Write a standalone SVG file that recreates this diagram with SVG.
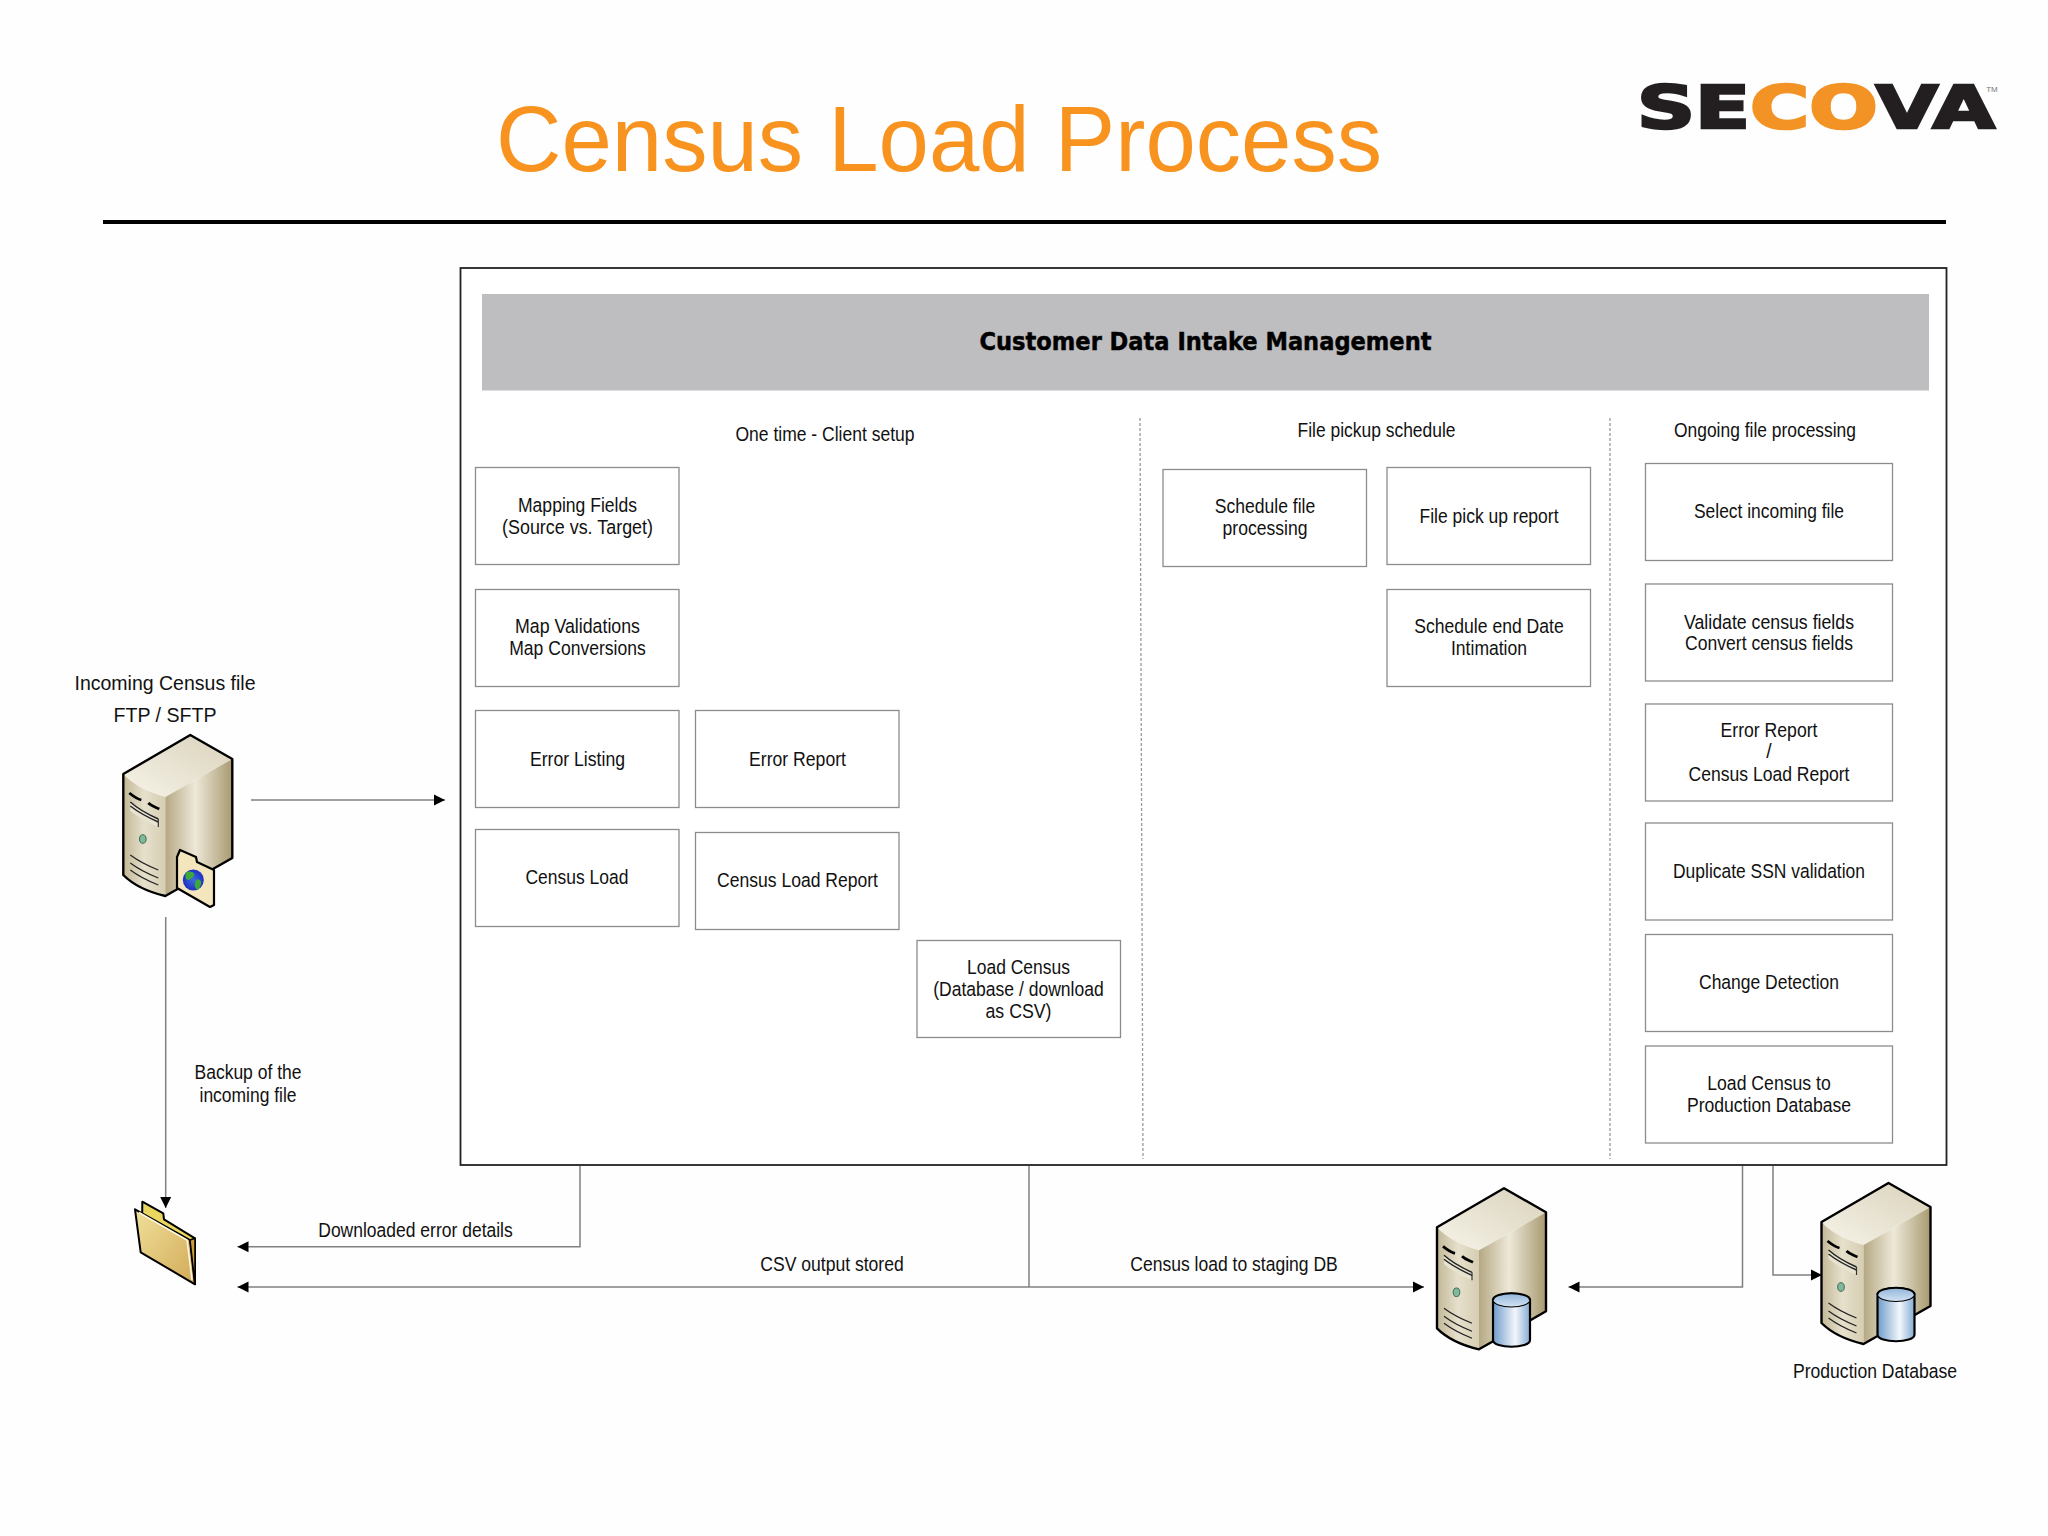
<svg xmlns="http://www.w3.org/2000/svg" xmlns:xlink="http://www.w3.org/1999/xlink" width="2048" height="1536" viewBox="0 0 2048 1536">
<style>
text{font-family:"Liberation Sans",Arial,sans-serif;fill:#111;text-anchor:middle}
.t{font-size:19.3px}
.box{fill:#fff;stroke:#8c8c8c;stroke-width:1.3}
.c{fill:none;stroke:#808080;stroke-width:1.5}
.d{fill:none;stroke:#999;stroke-width:1.3;stroke-dasharray:3 2}
.o{fill:none;stroke:#000;stroke-width:2.4;stroke-linejoin:round}
.l{fill:none;stroke:#222;stroke-width:1.2}
</style>
<defs>
<marker id="arrow" markerUnits="userSpaceOnUse" markerWidth="12" markerHeight="13" refX="11" refY="6" orient="auto-start-reverse"><path d="M0,0.5 L11,6 L0,11.5Z" fill="#000"/></marker>
<linearGradient id="gTop" x1="0" y1="1" x2="1" y2="0"><stop offset="0" stop-color="#f6f3e8"/><stop offset="1" stop-color="#d9d2bb"/></linearGradient>
<linearGradient id="gFront" x1="0" y1="0" x2="1" y2="0"><stop offset="0" stop-color="#c2b796"/><stop offset=".5" stop-color="#e6e0cc"/><stop offset="1" stop-color="#d6ceb2"/></linearGradient>
<linearGradient id="gRight" x1="0" y1="0" x2="1" y2="0"><stop offset="0" stop-color="#b5a883"/><stop offset=".45" stop-color="#ede8d8"/><stop offset="1" stop-color="#a89a70"/></linearGradient>
<linearGradient id="gCyl" x1="0" y1="0" x2="1" y2="0"><stop offset="0" stop-color="#6f9bca"/><stop offset=".6" stop-color="#f2f6fb"/><stop offset="1" stop-color="#84abd3"/></linearGradient>
<linearGradient id="gCylTop" x1="0" y1="0" x2="0" y2="1"><stop offset="0" stop-color="#8fb4da"/><stop offset="1" stop-color="#d3e3f3"/></linearGradient>
<linearGradient id="gFold" x1="0" y1="0" x2="1" y2="1"><stop offset="0" stop-color="#efe09a"/><stop offset="1" stop-color="#d3aa58"/></linearGradient>
<radialGradient id="gGlobe"><stop offset="0" stop-color="#3b6ce0"/><stop offset="1" stop-color="#1f2fc0"/></radialGradient>
<symbol id="server" width="112" height="164" viewBox="-1.5 -1.5 112 164" overflow="visible">
<path d="M67,0 L109,24 L42,62 C25,57 10,50 0,39Z" fill="url(#gTop)"/>
<path d="M0,39 C10,50 25,57 42,62 V161 C25,157 10,150 0,140Z" fill="url(#gFront)"/>
<path d="M42,62 L109,24 V123 L42,161Z" fill="url(#gRight)"/>
<path d="M6,58 C11,62 14,64 18,65 M25,68 C28,71 32,72 36,74" fill="none" stroke="#000" stroke-width="2.8"/>
<path d="M7,67 C16,75 26,80 35,84 V92 C26,88 16,83 7,76Z" fill="#e8e2d0"/>
<path d="M7,67 C16,75 26,80 35,84 M7,71 C16,78 26,83 35,87" fill="none" stroke="#222" stroke-width="1.4"/>
<path d="M35,84 V92" stroke="#333" stroke-width="1.2" fill="none"/>
<ellipse cx="19.500" cy="104" rx="3.300" ry="4.300" fill="#7fb89a" stroke="#3d6a55" stroke-width="1"/>
<path class="l" d="M7,120 C15,126 25,131 35,135 M7,128 C15,134 25,139 35,143 M7,135 C15,141 25,146 35,150"/>
<path class="o" d="M67,0 L109,24 V123 L42,161 C25,157 10,150 0,140 V39Z"/>
</symbol>
<symbol id="cyl" width="42" height="60" viewBox="-2 -2 42 60" overflow="visible">
<path d="M0,7 V47 C0,56 37,56 37,47 V7Z" fill="url(#gCyl)" stroke="#000" stroke-width="2.2"/>
<ellipse cx="18.500" cy="7" rx="18.500" ry="7" fill="url(#gCylTop)" stroke="#000" stroke-width="1.200"/>
<path d="M0,7 C0,-2 37,-2 37,7" fill="none" stroke="#000" stroke-width="2.2"/>
</symbol>
</defs>
<rect width="2048" height="1536" fill="#fefefe"/>
<text id="title" x="939" y="171" textLength="886" lengthAdjust="spacingAndGlyphs" style="font-size:92px;fill:#f7931e">Census Load Process</text>
<g id="logo">
<text x="1637" y="128" textLength="358" lengthAdjust="spacingAndGlyphs" style="font-family:'DejaVu Sans',sans-serif;font-weight:bold;font-size:59px;text-anchor:start;fill:#231f20;stroke:#231f20;stroke-width:2.6">SE<tspan style="fill:#f39325;stroke:#f39325">CO</tspan>VA</text>
<text x="1992" y="92" style="font-size:8px;fill:#777">TM</text>
</g>
<rect x="103" y="220" width="1843" height="4" fill="#000"/>
<g id="main">
<rect x="460.500" y="268" width="1486" height="897" fill="#fff" stroke="#222" stroke-width="1.800"/>
<rect id="header" x="482" y="294" width="1447" height="96.500" fill="#bebdbf"/>
<text x="1205.500" y="349.500" textLength="452" lengthAdjust="spacingAndGlyphs" style="font-family:'DejaVu Sans',sans-serif;font-weight:bold;font-size:25px;fill:#000;stroke:#000;stroke-width:.5">Customer Data Intake Management</text>
<path class="d" d="M1140,418 L1143,1159"/>
<path class="d" d="M1610,418 L1610,1159"/>
<text class="t" x="825" y="441" textLength="179" lengthAdjust="spacingAndGlyphs">One time - Client setup</text>
<text class="t" x="1376.500" y="437" textLength="158" lengthAdjust="spacingAndGlyphs">File pickup schedule</text>
<text class="t" x="1765" y="437" textLength="182" lengthAdjust="spacingAndGlyphs">Ongoing file processing</text>
</g>
<g id="n1"><rect class="box" x="475.500" y="467.500" width="203.500" height="97"/><text class="t" x="577.500" y="511.500" textLength="119" lengthAdjust="spacingAndGlyphs">Mapping Fields</text><text class="t" x="577.500" y="533.500" textLength="151" lengthAdjust="spacingAndGlyphs">(Source vs. Target)</text></g>
<g id="n2"><rect class="box" x="475.500" y="589.500" width="203.500" height="97"/><text class="t" x="577.500" y="632.500" textLength="125" lengthAdjust="spacingAndGlyphs">Map Validations</text><text class="t" x="577.500" y="654.500" textLength="136.500" lengthAdjust="spacingAndGlyphs">Map Conversions</text></g>
<g id="n3"><rect class="box" x="475.500" y="710.500" width="203.500" height="97"/><text class="t" x="577.500" y="766" textLength="95" lengthAdjust="spacingAndGlyphs">Error Listing</text></g>
<g id="n4"><rect class="box" x="695.500" y="710.500" width="203.500" height="97"/><text class="t" x="797.500" y="766" textLength="97" lengthAdjust="spacingAndGlyphs">Error Report</text></g>
<g id="n5"><rect class="box" x="475.500" y="829.500" width="203.500" height="97"/><text class="t" x="577" y="884" textLength="103" lengthAdjust="spacingAndGlyphs">Census Load</text></g>
<g id="n6"><rect class="box" x="695.500" y="832.500" width="203.500" height="97"/><text class="t" x="797.500" y="887" textLength="161" lengthAdjust="spacingAndGlyphs">Census Load Report</text></g>
<g id="n7"><rect class="box" x="917" y="940.500" width="203.500" height="97"/><text class="t" x="1018.500" y="973.500" textLength="103" lengthAdjust="spacingAndGlyphs">Load Census</text><text class="t" x="1018.500" y="995.700" textLength="170.500" lengthAdjust="spacingAndGlyphs">(Database / download</text><text class="t" x="1018.500" y="1018" textLength="66" lengthAdjust="spacingAndGlyphs">as CSV)</text></g>
<g id="n8"><rect class="box" x="1163" y="469.500" width="203.500" height="97"/><text class="t" x="1265" y="513" textLength="100.500" lengthAdjust="spacingAndGlyphs">Schedule file</text><text class="t" x="1265" y="535" textLength="85" lengthAdjust="spacingAndGlyphs">processing</text></g>
<g id="n9"><rect class="box" x="1387" y="467.500" width="203.500" height="97"/><text class="t" x="1489" y="523" textLength="139" lengthAdjust="spacingAndGlyphs">File pick up report</text></g>
<g id="n10"><rect class="box" x="1387" y="589.500" width="203.500" height="97"/><text class="t" x="1489" y="632.500" textLength="149.500" lengthAdjust="spacingAndGlyphs">Schedule end Date</text><text class="t" x="1489" y="654.500" textLength="76" lengthAdjust="spacingAndGlyphs">Intimation</text></g>
<g id="n11"><rect class="box" x="1645.500" y="463.500" width="247" height="97"/><text class="t" x="1769" y="518" textLength="150" lengthAdjust="spacingAndGlyphs">Select incoming file</text></g>
<g id="n12"><rect class="box" x="1645.500" y="584" width="247" height="97"/><text class="t" x="1769" y="628.700" textLength="170" lengthAdjust="spacingAndGlyphs">Validate census fields</text><text class="t" x="1769" y="650" textLength="168" lengthAdjust="spacingAndGlyphs">Convert census fields</text></g>
<g id="n13"><rect class="box" x="1645.500" y="704" width="247" height="97"/><text class="t" x="1769" y="736.500" textLength="97" lengthAdjust="spacingAndGlyphs">Error Report</text><text class="t" x="1769" y="758">/</text><text class="t" x="1769" y="781" textLength="161" lengthAdjust="spacingAndGlyphs">Census Load Report</text></g>
<g id="n14"><rect class="box" x="1645.500" y="823" width="247" height="97"/><text class="t" x="1769" y="877.500" textLength="192" lengthAdjust="spacingAndGlyphs">Duplicate SSN validation</text></g>
<g id="n15"><rect class="box" x="1645.500" y="934.500" width="247" height="97"/><text class="t" x="1769" y="989" textLength="140" lengthAdjust="spacingAndGlyphs">Change Detection</text></g>
<g id="n16"><rect class="box" x="1645.500" y="1046" width="247" height="97"/><text class="t" x="1769" y="1090" textLength="123.500" lengthAdjust="spacingAndGlyphs">Load Census to</text><text class="t" x="1769" y="1112" textLength="164" lengthAdjust="spacingAndGlyphs">Production Database</text></g>
<g id="connectors">
<path class="c" d="M251,800 H445" marker-end="url(#arrow)"/>
<path class="c" d="M165.700,917 V1208" marker-end="url(#arrow)"/>
<path class="c" d="M580,1166 V1246.700 H237.500" marker-end="url(#arrow)"/>
<path class="c" d="M237.500,1287 H1424" marker-start="url(#arrow)" marker-end="url(#arrow)"/>
<path class="c" d="M1029,1166 V1287"/>
<path class="c" d="M1742.500,1166 V1287 H1568.500" marker-end="url(#arrow)"/>
<path class="c" d="M1773,1166 V1275 H1822" marker-end="url(#arrow)"/>
</g>
<g id="incoming">
<text x="165" y="690" textLength="181" lengthAdjust="spacingAndGlyphs" style="font-size:21px">Incoming Census file</text>
<text x="165" y="722" textLength="103" lengthAdjust="spacingAndGlyphs" style="font-size:21px">FTP / SFTP</text>
<use xlink:href="#server" href="#server" x="121.800" y="733.500"/>
<path d="M177,857 L180,850 L196,857 L197,862 L214,870 L214,905 L210,907 L177,888Z" fill="#f3e6bd" stroke="#000" stroke-width="2.200" stroke-linejoin="round"/>
<circle cx="193.300" cy="880" r="10.500" fill="url(#gGlobe)"/>
<path d="M186,872 C192,870 198,874 192,878 C188,882 184,880 186,872Z M196,880 C202,878 203,884 198,890 C194,888 194,884 196,880Z" fill="#3fa63f"/>
</g>
<text class="t" x="248" y="1079" textLength="107" lengthAdjust="spacingAndGlyphs">Backup of the</text>
<text class="t" x="248" y="1102" textLength="97" lengthAdjust="spacingAndGlyphs">incoming file</text>
<g id="folder">
<path d="M142.300,1201.700 L163.300,1213.300 L164,1219.300 L195,1238.300 L195,1284 L142,1240Z" fill="#e9d75f" stroke="#000" stroke-width="2" stroke-linejoin="round"/>
<path d="M135,1209.300 L190,1240 L195,1284.300 L140.700,1252.300Z" fill="url(#gFold)" stroke="#000" stroke-width="2" stroke-linejoin="round"/>
<path d="M139,1212.500 L187,1240 L192,1280" fill="none" stroke="#fff8e0" stroke-width="1.500"/>
<path d="M190,1240 L195,1238.300 V1284.300Z" fill="#c99b3f" stroke="#000" stroke-width="1.500" stroke-linejoin="round"/>
</g>
<text class="t" x="415.500" y="1237" textLength="194.500" lengthAdjust="spacingAndGlyphs">Downloaded error details</text>
<text class="t" x="832" y="1271" textLength="143.500" lengthAdjust="spacingAndGlyphs">CSV output stored</text>
<text class="t" x="1234" y="1271" textLength="207.500" lengthAdjust="spacingAndGlyphs">Census load to staging DB</text>
<g id="staging"><use xlink:href="#server" href="#server" x="1435.500" y="1186.800"/><use xlink:href="#cyl" href="#cyl" x="1491" y="1291"/></g>
<g id="production"><use xlink:href="#server" href="#server" x="1820" y="1181.500"/><use xlink:href="#cyl" href="#cyl" x="1875.500" y="1285.500"/>
<text class="t" x="1875" y="1378" textLength="164" lengthAdjust="spacingAndGlyphs">Production Database</text></g>
</svg>
